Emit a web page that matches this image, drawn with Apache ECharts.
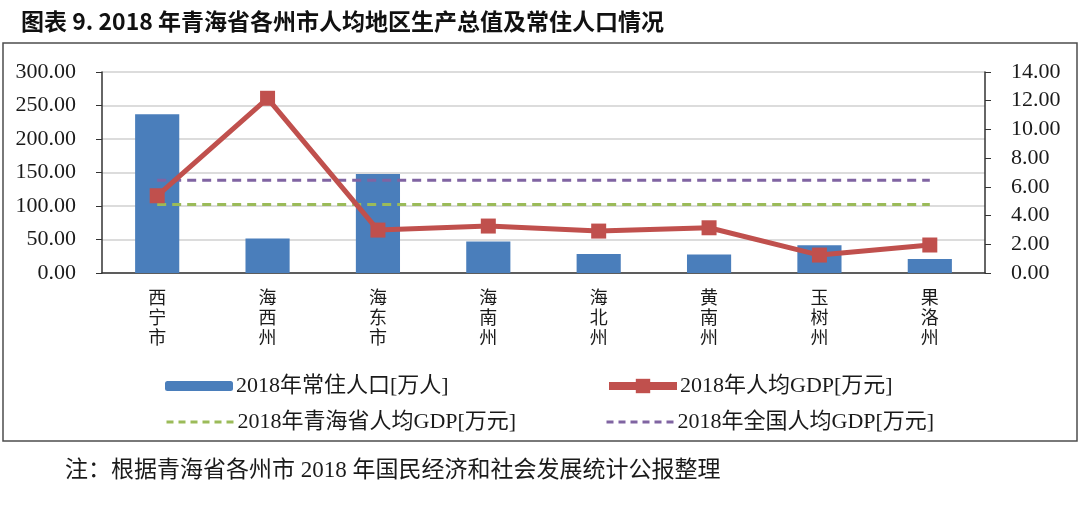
<!DOCTYPE html>
<html>
<head>
<meta charset="utf-8">
<script src="https://cdn.jsdelivr.net/npm/echarts@6/dist/echarts.min.js"></script>
<style>
html,body{margin:0;padding:0;background:#fff;}
#c{width:1080px;height:506px;}
</style>
</head>
<body>
<div id="c"></div>
<script>
const categories = ['西宁市','海西州','海东市','海南州','海北州','黄南州','玉树州','果洛州'];
const population = [237.1, 51.6, 147.8, 47.2, 28.2, 27.6, 41.6, 20.8];
const gdpPerCapita = [5.38, 12.17, 2.99, 3.27, 2.92, 3.15, 1.25, 1.95];
const qinghaiAvg = [4.77, 4.77, 4.77, 4.77, 4.77, 4.77, 4.77, 4.77];
const nationalAvg = [6.46, 6.46, 6.46, 6.46, 6.46, 6.46, 6.46, 6.46];
const seriesNames = ['2018年常住人口[万人]','2018年人均GDP[万元]','2018年青海省人均GDP[万元]','2018年全国人均GDP[万元]'];
const titleText = '图表 9. 2018 年青海省各州市人均地区生产总值及常住人口情况';
const noteText = '注：根据青海省各州市 2018 年国民经济和社会发展统计公报整理';

const serif = '"Liberation Serif","Noto Sans CJK SC",serif';
const cjk = '"Noto Sans CJK SC",sans-serif';
const txt = '#1a1a1a';

const chart = echarts.init(document.getElementById('c'), null, {renderer:'canvas'});
function legendAt(item, left, top, extra){
  return Object.assign({
    data:[item], left:left, top:top, itemWidth:68, itemHeight:14, itemGap:0,
    textStyle:{fontFamily:serif, fontSize:22, color:txt, padding:[0,0,0,-2]},
    selectedMode:false
  }, extra||{});
}
chart.setOption({
  animation:false,
  title:[{
    text:titleText, left:16, top:5,
    textStyle:{fontFamily:cjk, fontSize:23, fontWeight:'bold', color:'#111'}
  },{
    text:noteText, left:60, top:454,
    textStyle:{fontFamily:serif, fontSize:23, fontWeight:'normal', color:txt}
  }],
  graphic:[{
    type:'rect', shape:{x:3, y:43, width:1074, height:398},
    style:{fill:'none', stroke:'#4d4d4d', lineWidth:1.5}, silent:true
  }],
  legend:[
    legendAt({name:seriesNames[0]}, 160, 370, {itemHeight:10}),
    legendAt({name:seriesNames[1], lineStyle:{width:8}}, 600, 370, {itemHeight:18}),
    legendAt({name:seriesNames[2], itemStyle:{opacity:0}, lineStyle:{width:3, type:[7,5]}}, 160, 406),
    legendAt({name:seriesNames[3], itemStyle:{opacity:0}, lineStyle:{width:3, type:[7,5]}}, 600, 406)
  ],
  grid:{left:102, right:95, top:72, bottom:233},
  xAxis:{
    type:'category', data:categories,
    axisLine:{show:true, lineStyle:{color:'#333', width:1.5}},
    axisTick:{show:false},
    axisLabel:{
      interval:0, margin:14, fontFamily:cjk, fontSize:18, lineHeight:20, color:txt,
      formatter:v=>v.split('').join('\n')
    }
  },
  yAxis:[{
    type:'value', min:0, max:300, interval:50,
    axisLine:{show:true, lineStyle:{color:'#333', width:1.5}},
    axisTick:{show:true, inside:false, length:6, lineStyle:{color:'#333'}},
    splitLine:{show:true, lineStyle:{color:'#d0d0d0', width:1.5}},
    axisLabel:{fontFamily:serif, fontSize:22, color:txt, margin:26, formatter:v=>v.toFixed(2)}
  },{
    type:'value', min:0, max:14, interval:2,
    axisLine:{show:true, lineStyle:{color:'#333', width:1.5}},
    axisTick:{show:true, length:6, lineStyle:{color:'#333'}},
    splitLine:{show:false},
    axisLabel:{fontFamily:serif, fontSize:22, color:txt, margin:26, formatter:v=>v.toFixed(2)}
  }],
  series:[{
    name:seriesNames[0], type:'bar', data:population, yAxisIndex:0,
    barWidth:'40%', itemStyle:{color:'#4a7ebb'}
  },{
    name:seriesNames[2], type:'line', data:qinghaiAvg, yAxisIndex:1,
    symbol:'none', lineStyle:{color:'#9bbb59', width:3, type:[9,6]}, itemStyle:{color:'#9bbb59'}
  },{
    name:seriesNames[3], type:'line', data:nationalAvg, yAxisIndex:1,
    symbol:'none', lineStyle:{color:'#8064a2', width:3, type:[9,6]}, itemStyle:{color:'#8064a2'}
  },{
    name:seriesNames[1], type:'line', data:gdpPerCapita, yAxisIndex:1,
    symbol:'rect', symbolSize:15, lineStyle:{color:'#c0504d', width:5}, itemStyle:{color:'#c0504d'}
  }]
});
</script>
</body>
</html>
